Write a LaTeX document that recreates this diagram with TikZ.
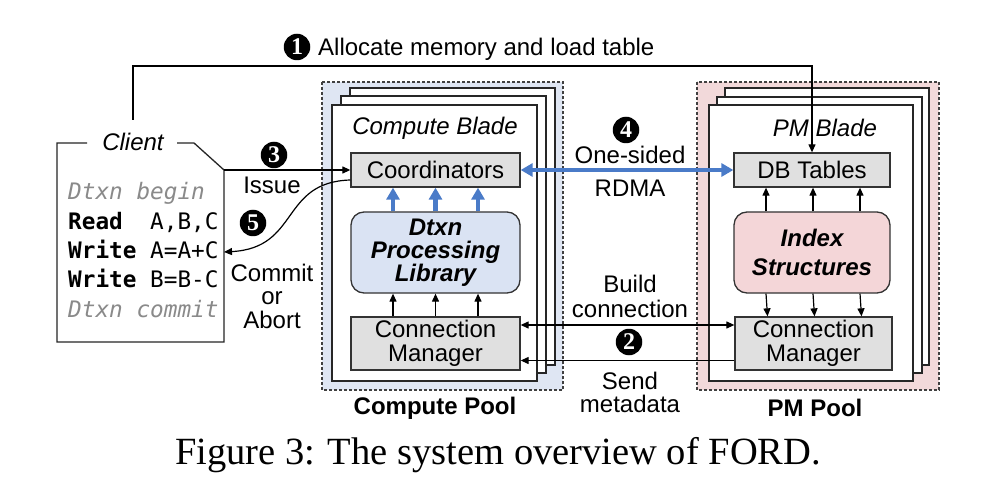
\documentclass[tikz,border=0pt]{standalone}
\usepackage{fontspec}
\setmainfont{Liberation Sans}
\newfontfamily\monofnt{DejaVu Sans Mono}
\newfontfamily\serifnt{Liberation Serif}
\usetikzlibrary{arrows.meta,calc}
\definecolor{cpoolc}{HTML}{DFE6F3}
\definecolor{dtxnc}{HTML}{DAE3F3}
\definecolor{ppoolc}{HTML}{F2D9DA}
\definecolor{idxc}{HTML}{F4D6D8}
\definecolor{boxgray}{HTML}{E0E0E0}
\definecolor{arrblue}{HTML}{4A7BC8}
\definecolor{codegray}{HTML}{8A8A8A}
\begin{document}
\begin{tikzpicture}[x=1pt,y=-1pt, font=\fontsize{24}{24}\selectfont,
  pool/.style={draw=black!75, dash pattern=on 3pt off 2pt, line width=1.1pt},
  blade/.style={draw=black!85, fill=white, line width=1.3pt},
  gbox/.style={draw=black!80, fill=boxgray, line width=1.3pt, inner sep=0pt, align=center},
  rbox/.style={draw=black!80, line width=1.3pt, rounded corners=13pt, inner sep=0pt, align=center},
  blk/.style={-{Triangle[length=8pt,width=7pt]}, line width=1.2pt},
  blkboth/.style={{Triangle[length=8pt,width=7pt]}-{Triangle[length=8pt,width=7pt]}, line width=1.2pt},
  blu/.style={-{Triangle[length=12pt,width=13pt]}, line width=4.5pt, draw=arrblue},
  bluboth/.style={{Triangle[length=12pt,width=13pt]}-{Triangle[length=12pt,width=13pt]}, line width=3.5pt, draw=arrblue},
  num/.style={circle, fill=black, text=white, inner sep=0pt, minimum size=26.5pt, font=\serifnt\bfseries\fontsize{24}{24}\selectfont},
  lbl/.style={align=center, inner sep=0pt},
  code/.style={anchor=base west, inner sep=0pt, font=\monofnt\fontsize{22.7}{26}\selectfont}
]
\useasboundingbox (0,0) rectangle (987,478);
\fill[white] (0,0) rectangle (987,478);

% ---------- Compute pool ----------
\filldraw[pool, fill=cpoolc] (322,82) rectangle (563,390);
\filldraw[blade] (350,88) rectangle (555,365);
\filldraw[blade] (341,96) rectangle (546,373);
\filldraw[blade] (332,105) rectangle (537,381);
\node[lbl, font=\itshape\fontsize{24}{24}\selectfont] (cblade) at (435,128) {Compute Blade};
\node[gbox, minimum width=169pt, minimum height=34pt] (coord) at (435.5,170) {Coordinators};
\node[rbox, fill=dtxnc, minimum width=169pt, minimum height=81pt,
      font=\bfseries\itshape\fontsize{24}{23}\selectfont] (dtxn) at (435.5,252.5) {Dtxn\\Processing\\Library};
\node[gbox, minimum width=169pt, minimum height=53pt, font=\fontsize{24}{24}\selectfont] (ccm) at (435.5,343.5) {Connection\\Manager};
\node[lbl, font=\bfseries\fontsize{24}{24}\selectfont] (cpool) at (435,408) {Compute Pool};

\foreach \xx in {-42.5,0,42.5}{
  \draw[blu] ([xshift=\xx pt]dtxn.north) -- ([xshift=\xx pt]coord.south);
  \draw[blk] ([xshift=\xx pt]ccm.north) -- ([xshift=\xx pt]dtxn.south);
}

% ---------- PM pool ----------
\filldraw[pool, fill=ppoolc] (697,82) rectangle (939,390);
\filldraw[blade] (725,88) rectangle (929,365);
\filldraw[blade] (717,97) rectangle (922,373);
\filldraw[blade] (709,105) rectangle (913,381);
\node[lbl, font=\itshape\fontsize{24}{24}\selectfont] (pblade) at (825,128) {PM Blade};
\node[gbox, minimum width=156pt, minimum height=34pt] (dbt) at (812,170) {DB Tables};
\node[rbox, fill=idxc, minimum width=156pt, minimum height=81pt,
      font=\bfseries\itshape\fontsize{24}{29}\selectfont] (idx) at (812,252.5) {Index\\Structures};
\node[gbox, minimum width=157pt, minimum height=53pt, font=\fontsize{24}{24}\selectfont] (pcm) at (813.5,343.5) {Connection\\Manager};
\node[lbl, font=\bfseries\fontsize{24}{24}\selectfont] (ppool) at (815,408) {PM Pool};

\foreach \xx in {-46,1,48}{
  \draw[blk] ([xshift=\xx pt]idx.north) -- ([xshift=\xx pt]dbt.south);
  \draw[blk] ([xshift=\xx pt]idx.south) -- ([xshift=\xx pt]pcm.north);
}

% ---------- between pools ----------
\draw[bluboth] (coord.east) -- (dbt.west);
\node[num] (n4) at (626,130) {4};
\node[lbl] (onesided) at (630,155) {One-sided};
\node[lbl] (rdma) at (630,188) {RDMA};

\draw[blkboth] ([yshift=18.5pt]ccm.east) -- ([yshift=18.5pt]pcm.west);
\draw[blk] ([yshift=-17pt]pcm.west) -- ([yshift=-17pt]ccm.east);
\node[lbl, font=\fontsize{24}{25}\selectfont] (build) at (630,296) {Build\\connection};
\node[num] (n2) at (629,342) {2};
\node[lbl, font=\fontsize{24}{23}\selectfont] (send) at (630,392) {Send\\metadata};

% ---------- Client ----------
\draw[line width=1.3pt, black!85] (87,143) -- (57,143) -- (57,342) -- (224,342) -- (224,170) -- (194,143) -- (177,143);
\node[lbl, font=\itshape\fontsize{24}{24}\selectfont] (client) at (133,142) {Client};
\node[code, text=codegray, font=\monofnt\itshape\fontsize{22.7}{26}\selectfont] (l1) at (68,200) {Dtxn begin};
\node[code] (l2) at (68,229.3) {\textbf{Read}\ \ A,B,C};
\node[code] (l3) at (68,258.6) {\textbf{Write} A=A+C};
\node[code] (l4) at (68,287.9) {\textbf{Write} B=B-C};
\node[code, text=codegray, font=\monofnt\itshape\fontsize{22.7}{26}\selectfont] (l5) at (68,317.2) {Dtxn commit};

\coordinate (issuestart) at (224,170);
\draw[blk] (issuestart) -- (coord.west);
\node[num] (n3) at (274,155) {3};
\node[lbl] (issue) at (272,185) {Issue};

\coordinate (commitend) at (224,252);
\draw[blk] ([yshift=-10pt]coord.west) .. controls (280,182) and (300,248) .. (commitend);
\node[num] (n5) at (253,223) {5};
\node[lbl, font=\fontsize{24}{23.5}\selectfont] (commit) at (272,296) {Commit\\or\\Abort};

% ---------- Allocate ----------
\coordinate (allocA) at (133,120);
\coordinate (allocB) at (133,66);
\draw[blk] (allocA) -- (allocB) -| (dbt.north);
\node[num] (n1) at (297,47) {1};
\node[lbl, anchor=west] (alloc) at (318,49) {Allocate memory and load table};

% ---------- Caption ----------
\node[lbl, font=\serifnt\fontsize{38.5}{40}\selectfont] (caption) at (498,455) {Figure 3: The system overview of FORD.};
\end{tikzpicture}
\end{document}
